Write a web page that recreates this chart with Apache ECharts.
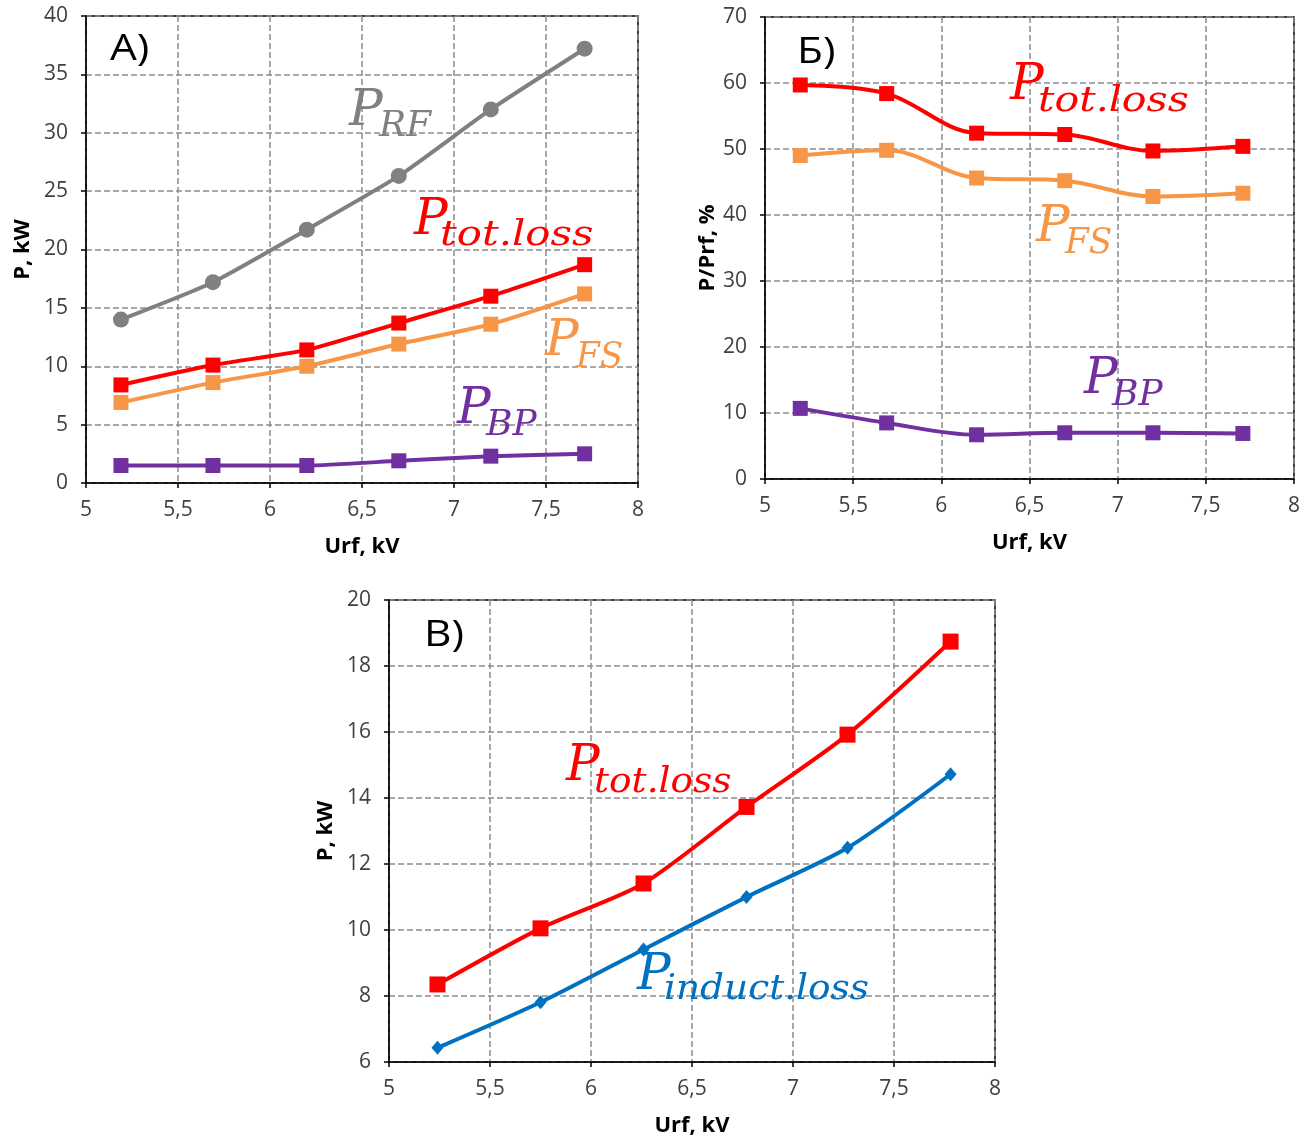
<!DOCTYPE html>
<html><head><meta charset="utf-8">
<script src="https://cdn.jsdelivr.net/npm/echarts@6/dist/echarts.min.js"></script>
<style>html,body{margin:0;padding:0;background:#fff}#c{width:1314px;height:1140px}</style>
</head><body><div id="c"></div>
<script>
// ---- data ----
const urfA   = [5.19, 5.69, 6.2, 6.7, 7.2, 7.71];
const pRF_A  = [14.0, 17.2, 21.7, 26.3, 32.0, 37.2];
const pTot_A = [8.4, 10.1, 11.4, 13.7, 16.0, 18.7];
const pFS_A  = [6.9, 8.6, 10.0, 11.9, 13.6, 16.2];
const pBP_A  = [1.5, 1.5, 1.5, 1.9, 2.3, 2.5];

const urfB   = [5.2, 5.69, 6.2, 6.7, 7.2, 7.71];
const pTot_B = [59.7, 58.4, 52.4, 52.2, 49.7, 50.4];
const pFS_B  = [49.0, 49.8, 45.6, 45.2, 42.8, 43.3];
const pBP_B  = [10.7, 8.5, 6.7, 7.0, 7.0, 6.9];

const urfV   = [5.24, 5.75, 6.26, 6.77, 7.27, 7.78];
const pTot_V = [8.35, 10.05, 11.41, 13.73, 15.92, 18.74];
const pInd_V = [6.43, 7.81, 9.41, 11.0, 12.49, 14.72];

const xTickValues = [5, 5.5, 6, 6.5, 7, 7.5, 8];
const xTickLabels = ['5', '5,5', '6', '6,5', '7', '7,5', '8'];

// ---- colors ----
const C_GRAY = '#808080', C_RED = '#FF0000', C_OR = '#F79646', C_PUR = '#7030A0', C_BLUE = '#0070C0';

function zip(xs, ys) { return xs.map((x, i) => [x, ys[i]]); }
function xLabel(v) {
  const i = xTickValues.findIndex(t => Math.abs(t - v) < 1e-9);
  return i >= 0 ? xTickLabels[i] : String(v);
}

const TICK_FONT = {fontFamily: '"Open Sans"', fontSize: 21, color: '#404040'};
const NAME_FONT = {fontFamily: '"Open Sans"', fontSize: 22, fontWeight: 'bold', color: '#000'};
const axisLine = {show: true, onZero: false, lineStyle: {color: '#000', width: 1.5}};
const axisTick = {show: true, inside: false, length: 5, lineStyle: {color: '#000', width: 1.5}};
const splitLine = {show: true, lineStyle: {color: '#8c8c8c', type: [6, 3], width: 1.5}};

function makeX(gi, nameGap) {
  return {
    type: 'value', gridIndex: gi, min: 5, max: 8, interval: 0.5,
    name: 'Urf, kV', nameLocation: 'middle', nameGap: nameGap, nameTextStyle: NAME_FONT,
    axisLine, axisTick, splitLine,
    axisLabel: Object.assign({margin: 17, formatter: xLabel}, TICK_FONT)
  };
}
function makeY(gi, min, max, interval, name, nameGap) {
  return {
    type: 'value', gridIndex: gi, min, max, interval,
    name, nameLocation: 'middle', nameGap, nameTextStyle: NAME_FONT,
    axisLine, axisTick, splitLine,
    axisLabel: Object.assign({margin: 18}, TICK_FONT)
  };
}
function line(gi, xs, ys, color, symbol, size, smooth, width) {
  return {
    type: 'line', xAxisIndex: gi, yAxisIndex: gi, data: zip(xs, ys),
    symbol, symbolSize: size, smooth, showSymbol: true,
    lineStyle: {color, width: width || 4}, itemStyle: {color, opacity: 1},
    emphasis: {disabled: true}, z: 3
  };
}

function sub(s, color, px, py, sx, sy, scl) {
  return [
    {type: 'text', z: 10, x: px, y: py, style: {text: 'P', x: 0, y: 0, fill: color, fontFamily: '"DejaVu Serif"', fontStyle: 'italic', fontSize: 50, verticalAlign: 'middle', align: 'left'}},
    {type: 'text', z: 10, x: sx, y: sy, scaleX: scl || 1, style: {text: s, x: 0, y: 0, fill: color, fontFamily: '"DejaVu Serif"', fontStyle: 'italic', fontSize: 36, verticalAlign: 'middle', align: 'left'}}
  ];
}
function letter(t, x, y) {
  return {type: 'text', z: 10, x, y, scaleX: 1.18, style: {text: t, x: 0, y: 0, fill: '#000', fontFamily: '"Open Sans"', fontSize: 36, verticalAlign: 'middle', align: 'left'}};
}

const option = {
  animation: false,
  backgroundColor: '#fff',
  grid: [
    {left: 86, top: 16, width: 552, height: 467, show: true, borderColor: '#000', borderWidth: 1.5, backgroundColor: 'transparent'},
    {left: 765, top: 17, width: 529, height: 462, show: true, borderColor: '#000', borderWidth: 1.5, backgroundColor: 'transparent'},
    {left: 389, top: 600, width: 606, height: 462, show: true, borderColor: '#000', borderWidth: 1.5, backgroundColor: 'transparent'}
  ],
  xAxis: [makeX(0, 53), makeX(1, 53), makeX(2, 53)],
  yAxis: [
    makeY(0, 0, 40, 5, 'P, kW', 52),
    makeY(1, 0, 70, 10, 'P/Prf, %', 45),
    makeY(2, 6, 20, 2, 'P, kW', 52)
  ],
  series: [
    line(0, urfA, pRF_A, C_GRAY, 'circle', 16, 0.2),
    line(0, urfA, pFS_A, C_OR, 'rect', 15, 0.2),
    line(0, urfA, pTot_A, C_RED, 'rect', 15, 0.2),
    line(0, urfA, pBP_A, C_PUR, 'rect', 15, 0.2),
    line(1, urfB, pFS_B, C_OR, 'rect', 15, 0.35),
    line(1, urfB, pTot_B, C_RED, 'rect', 15, 0.35),
    line(1, urfB, pBP_B, C_PUR, 'rect', 15, 0.35),
    line(2, urfV, pInd_V, C_BLUE, 'diamond', [12, 14], 0.25),
    line(2, urfV, pTot_V, C_RED, 'rect', 16, 0.25)
  ],
  graphic: [
    letter('А)', 110, 50),
    letter('Б)', 797, 53),
    letter('В)', 424, 636),
    ...sub('RF', C_GRAY, 349, 112, 379, 127, 1),
    ...sub('tot.loss', C_RED, 414, 221, 440, 236, 1.16),
    ...sub('FS', C_OR, 545, 342, 576, 358, 0.95),
    ...sub('BP', C_PUR, 457, 410, 486, 426, 1),
    ...sub('tot.loss', C_RED, 1010, 86, 1038, 102, 1.14),
    ...sub('tot.loss', C_RED, 566, 767, 594, 783, 1.04),
    ...sub('FS', C_OR, 1036, 228, 1065, 244, 0.95),
    ...sub('BP', C_PUR, 1084, 380, 1112, 396, 1),
    ...sub('induct.loss', C_BLUE, 637, 976, 664, 990, 1.04)
  ]
};
echarts.init(document.getElementById('c'), null, {renderer: 'canvas'}).setOption(option);
</script>
</body></html>
